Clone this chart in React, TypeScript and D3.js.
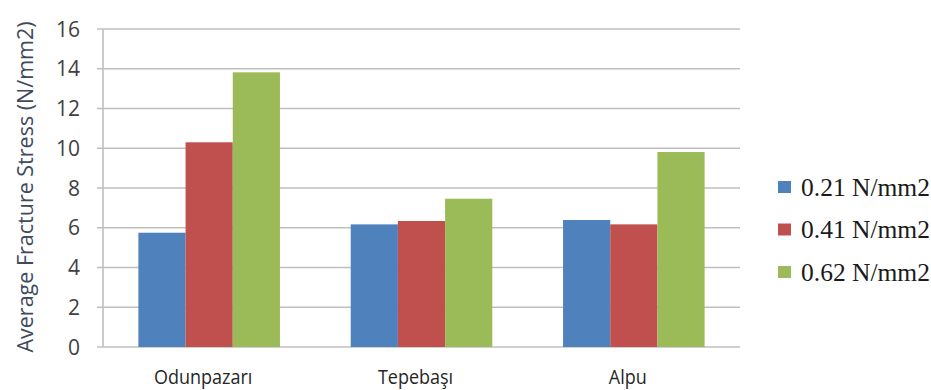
import React from "react";
import * as d3 from "d3";

const categories = ["Odunpazarı", "Tepebaşı", "Alpu"];
const seriesNames = ["0.21 N/mm2", "0.41 N/mm2", "0.62 N/mm2"];
const s021 = [5.75, 6.17, 6.39];
const s041 = [10.3, 6.34, 6.17];
const s062 = [13.82, 7.46, 9.81];
const seriesValues = [s021, s041, s062];
const colors = ["#4f81bd", "#c0504d", "#9bbb59"];
const yTicks = [0, 2, 4, 6, 8, 10, 12, 14, 16];
const yTitle = "Average Fracture Stress (N/mm2)";

const W = 931;
const H = 390;
const left = 103;
const right = 740;
const top = 29;
const bottom = 347;

export default function App() {
  const x = d3
    .scaleBand<string>()
    .domain(categories)
    .range([left, right])
    .paddingInner(1 / 3)
    .paddingOuter(1 / 6);
  const xs = d3
    .scaleBand<string>()
    .domain(seriesNames)
    .range([0, x.bandwidth()])
    .padding(0);
  const y = d3.scaleLinear().domain([0, 16]).range([bottom, top]);
  const legendY = d3.scalePoint<string>().domain(seriesNames).range([187, 272]);

  const font = "'Open Sans', sans-serif";
  const grid = "#bfbfbf";

  return (
    <svg
      width={W}
      height={H}
      style={{ position: "fixed", left: 0, top: 0, background: "#fff" }}
    >
      <rect x={0} y={0} width={W} height={H} fill="#fff" />
      {yTicks.map((t) => (
        <g key={t}>
          <line
            x1={left - 6}
            x2={right}
            y1={y(t)}
            y2={y(t)}
            stroke={grid}
            strokeWidth={1.6}
          />
          <text
            x={80}
            y={y(t)}
            dy="0.36em"
            textAnchor="end"
            fontFamily={font}
            fontSize={21}
            fill="#404040"
          >
            {t}
          </text>
        </g>
      ))}
      <line x1={left} x2={left} y1={top} y2={bottom} stroke={grid} strokeWidth={1.6} />
      {categories.map((c, i) => (
        <g key={c}>
          {seriesNames.map((s, j) => {
            const v = seriesValues[j][i];
            return (
              <rect
                key={s}
                x={(x(c) as number) + (xs(s) as number)}
                y={y(v)}
                width={xs.bandwidth()}
                height={y(0) - y(v)}
                fill={colors[j]}
              />
            );
          })}
          <text
            transform={`translate(${(x(c) as number) + x.bandwidth() / 2 - 6},384) scale(1,1.08)`}
            textAnchor="middle"
            fontFamily={font}
            fontSize={18}
            fill="#262626"
          >
            {c}
          </text>
        </g>
      ))}
      <text
        transform={`translate(25,${(top + bottom) / 2 - 1}) rotate(-90)`}
        textAnchor="middle"
        dy="0.35em"
        fontFamily={font}
        fontSize={21.5}
        fill="#404a5c"
      >
        {yTitle}
      </text>
      {seriesNames.map((s, j) => (
        <g key={s} transform={`translate(778,${legendY(s)})`}>
          <rect x={0} y={-6} width={13} height={12} fill={colors[j]} />
          <text
            x={23}
            y={0}
            dy="0.34em"
            fontFamily="'Liberation Serif', 'Times New Roman', serif"
            fontSize={25.5}
            fill="#1a1a1a"
          >
            {s}
          </text>
        </g>
      ))}
    </svg>
  );
}
